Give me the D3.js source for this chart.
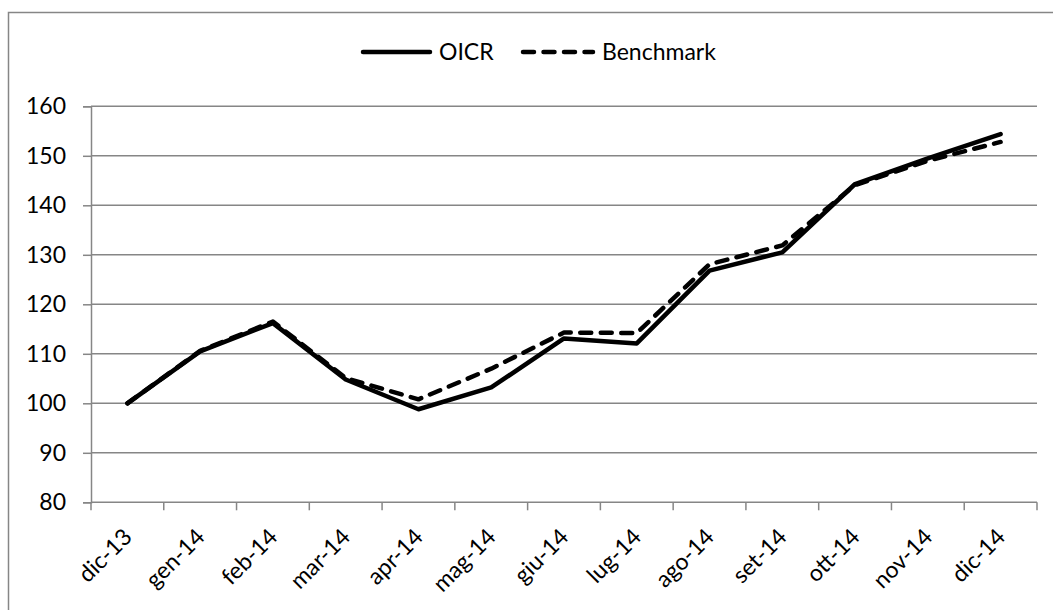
<!DOCTYPE html>
<html>
<head>
<meta charset="utf-8">
<script src="https://cdn.jsdelivr.net/npm/d3@7"></script>
<style>
  body { margin: 0; background: #fff; }
  text { font-family: Lato, "Liberation Sans", sans-serif; fill: #000; }
</style>
</head>
<body>
<script>
// chart data
const months = ["dic-13", "gen-14", "feb-14", "mar-14", "apr-14", "mag-14", "giu-14",
                "lug-14", "ago-14", "set-14", "ott-14", "nov-14", "dic-14"];
const oicr = [100, 110.5, 116.2, 104.8, 98.8, 103.2, 113.1, 112.1, 126.8, 130.5, 144.3, 149.5, 154.4];
const benchmark = [100, 110.6, 116.5, 105.1, 100.8, 107.0, 114.3, 114.2, 128.1, 131.9, 144.1, 149.0, 152.8];
const yTicks = [80, 90, 100, 110, 120, 130, 140, 150, 160];

const width = 1053, height = 610;
const plotLeft = 91, plotRight = 1037, plotTop = 106.3, plotBottom = 502.3;
const grey = "#868686";
const fontSize = "23px";

let svg = d3.select("body")
  .append("svg")
  .attr("width", width)
  .attr("height", height);

// outer frame (only left and top edges show in the picture)
svg.append("path")
  .attr("d", `M8.5,${height} V12.5 H${width}`)
  .attr("fill", "none")
  .attr("stroke", grey)
  .attr("stroke-width", 1.5);

let x = d3.scaleBand()
  .domain(months)
  .range([plotLeft, plotRight]);

let y = d3.scaleLinear()
  .domain([80, 160])
  .range([plotBottom, plotTop]);

// horizontal gridlines
svg.selectAll(".grid")
  .data(yTicks.filter(d => d > 80))
  .enter()
  .append("line")
  .attr("class", "grid")
  .attr("x1", plotLeft)
  .attr("x2", plotRight)
  .attr("y1", d => y(d))
  .attr("y2", d => y(d))
  .attr("stroke", grey)
  .attr("stroke-width", 1.5);

// y axis
let yAxis = svg.append("g")
  .attr("transform", `translate(${plotLeft},0)`)
  .call(d3.axisLeft(y).tickValues(yTicks).tickSize(8).tickPadding(17));
yAxis.select(".domain").attr("stroke", grey).attr("stroke-width", 1.5);
yAxis.selectAll(".tick line").attr("stroke", grey).attr("stroke-width", 1.5);
yAxis.selectAll("text").style("font-size", fontSize).style("font-family", "Lato").attr("fill", "#000");

// x axis line and ticks at category boundaries
let bounds = months.map(m => x(m)).concat([plotRight]);
svg.append("line")
  .attr("x1", plotLeft).attr("x2", plotRight)
  .attr("y1", plotBottom).attr("y2", plotBottom)
  .attr("stroke", grey).attr("stroke-width", 1.5);
svg.selectAll(".xtick")
  .data(bounds)
  .enter()
  .append("line")
  .attr("class", "xtick")
  .attr("x1", d => d).attr("x2", d => d)
  .attr("y1", plotBottom).attr("y2", plotBottom + 8)
  .attr("stroke", grey).attr("stroke-width", 1.5);

// rotated month labels
svg.selectAll(".xlabel")
  .data(months)
  .enter()
  .append("text")
  .attr("class", "xlabel")
  .attr("text-anchor", "end")
  .style("font-size", fontSize)
  .attr("transform", d => `translate(${x(d) + x.bandwidth() / 2 + 6},${plotBottom + 36}) rotate(-45)`)
  .text(d => d);

// series
let line = d3.line()
  .x((d, i) => x(months[i]) + x.bandwidth() / 2)
  .y(d => y(d));

svg.append("path")
  .datum(benchmark)
  .attr("d", line)
  .attr("fill", "none")
  .attr("stroke", "#000")
  .attr("stroke-width", 4.5)
  .attr("stroke-linecap", "round")
  .attr("stroke-linejoin", "round")
  .attr("stroke-dasharray", "11,9.5");

svg.append("path")
  .datum(oicr)
  .attr("d", line)
  .attr("fill", "none")
  .attr("stroke", "#000")
  .attr("stroke-width", 4.5)
  .attr("stroke-linecap", "round")
  .attr("stroke-linejoin", "round");

// legend
const legend = [
  { name: "OICR", x0: 363, x1: 430, dash: null },
  { name: "Benchmark", x0: 523, x1: 593, dash: "11,9.5" }
];
let lg = svg.selectAll(".legend")
  .data(legend)
  .enter()
  .append("g")
  .attr("class", "legend");
lg.append("line")
  .attr("x1", d => d.x0).attr("x2", d => d.x1)
  .attr("y1", 52).attr("y2", 52)
  .attr("stroke", "#000")
  .attr("stroke-width", 4.5)
  .attr("stroke-linecap", "round")
  .attr("stroke-dasharray", d => d.dash);
lg.append("text")
  .attr("x", d => d.x1 + 9)
  .attr("y", 60)
  .style("font-size", fontSize)
  .text(d => d.name);
</script>
</body>
</html>
